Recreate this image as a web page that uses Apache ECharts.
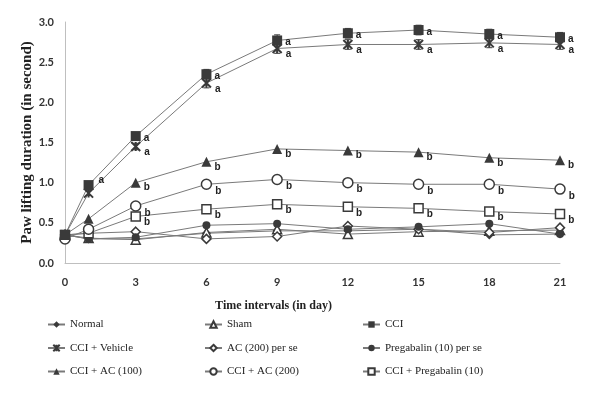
<!DOCTYPE html>
<html>
<head>
<meta charset="utf-8">
<script src="https://cdn.jsdelivr.net/npm/echarts@6/dist/echarts.min.js"></script>
<style>html,body{margin:0;padding:0;background:#fff}#c{width:600px;height:407px}</style>
</head>
<body>
<div id="c"></div>
<script>
const days = [0, 1, 3, 6, 9, 12, 15, 18, 21];
const xTicks = [0, 3, 6, 9, 12, 15, 18, 21];
const normal     = [0.35, 0.30, 0.30, 0.37, 0.40, 0.40, 0.42, 0.35, 0.36];
const sham       = [0.35, 0.31, 0.29, 0.38, 0.42, 0.36, 0.39, 0.40, 0.41];
const cci        = [0.35, 0.97, 1.58, 2.35, 2.77, 2.86, 2.90, 2.85, 2.81];
const cciVehicle = [0.35, 0.87, 1.45, 2.24, 2.67, 2.72, 2.72, 2.74, 2.72];
const acPerSe    = [0.35, 0.37, 0.39, 0.30, 0.33, 0.46, 0.42, 0.38, 0.44];
const pregPerSe  = [0.35, 0.30, 0.32, 0.47, 0.49, 0.42, 0.45, 0.49, 0.36];
const cciAc100   = [0.35, 0.55, 1.00, 1.26, 1.42, 1.40, 1.38, 1.31, 1.28];
const cciAc200   = [0.30, 0.42, 0.71, 0.98, 1.04, 1.00, 0.98, 0.98, 0.92];
const cciPreg    = [0.35, 0.37, 0.58, 0.67, 0.73, 0.70, 0.68, 0.64, 0.61];
const cciErr     = [0.02, 0.03, 0.04, 0.06, 0.07, 0.06, 0.06, 0.06, 0.06];
const vehErr     = [0.02, 0.03, 0.04, 0.06, 0.06, 0.06, 0.06, 0.06, 0.06];
const lettersCci = ['', 'a', 'a', 'a', 'a', 'a', 'a', 'a', 'a'];
const lettersVeh = ['', '', 'a', 'a', 'a', 'a', 'a', 'a', 'a'];
const lettersB   = ['', '', 'b', 'b', 'b', 'b', 'b', 'b', 'b'];
const names = ['Normal', 'Sham', 'CCI', 'CCI + Vehicle', 'AC (200) per se',
  'Pregabalin (10) per se', 'CCI + AC (100)', 'CCI + AC (200)', 'CCI + Pregabalin (10)'];

const DARK = '#3a3a3a';
const LINE = '#7a7a7a';
const starPath = 'path://M0,0 L10,10 M10,0 L0,10 M5,0 L5,10 M0,5 L0,5';

function pts(arr) { return days.map((d, i) => [d, arr[i]]); }

function lineSeries(name, arr, symbol, size, filled, letters, offY) {
  const s = {
    name: name, type: 'line', data: pts(arr),
    symbol: symbol, symbolSize: size,
    lineStyle: { color: LINE, width: 1 },
    itemStyle: { color: filled ? DARK : '#fff', borderColor: DARK, borderWidth: filled ? 0 : 1.5 },
    z: 3, animation: false
  };
  if (letters) {
    s.label = {
      show: true, position: 'right', distance: 3, offset: [0, offY],
      formatter: p => letters[p.dataIndex],
      fontFamily: 'Liberation Sans', fontWeight: 'bold', fontSize: 10, color: '#222'
    };
  }
  return s;
}

function errSeries(arr, err) {
  return {
    type: 'custom', silent: true, z: 2, animation: false,
    data: days.map((d, i) => [d, arr[i] - err[i], arr[i] + err[i]]),
    renderItem: function (params, api) {
      const lo = api.coord([api.value(0), api.value(1)]);
      const hi = api.coord([api.value(0), api.value(2)]);
      const w = 3;
      const st = { stroke: DARK, lineWidth: 1 };
      return { type: 'group', children: [
        { type: 'line', shape: { x1: lo[0], y1: lo[1], x2: hi[0], y2: hi[1] }, style: st },
        { type: 'line', shape: { x1: lo[0] - w, y1: lo[1], x2: lo[0] + w, y2: lo[1] }, style: st },
        { type: 'line', shape: { x1: hi[0] - w, y1: hi[1], x2: hi[0] + w, y2: hi[1] }, style: st }
      ]};
    }
  };
}

const vehSeries = lineSeries(names[3], cciVehicle, starPath, 9, true, lettersVeh, 6);
vehSeries.itemStyle = { color: DARK, borderColor: DARK, borderWidth: 2 };

const cciSeries = lineSeries(names[2], cci, 'rect', 10, true, lettersCci, 2);
cciSeries.data[1] = { value: cciSeries.data[1], label: { offset: [2, -5] } };

const legendText = { fontFamily: 'Liberation Serif', fontSize: 11, color: '#222' };
function legend(left, data) {
  return {
    orient: 'vertical', left: left, top: 319, padding: 0, itemGap: 12.5, itemWidth: 17, itemHeight: 8,
    data: data, textStyle: legendText, selectedMode: false
  };
}

const tickFont = { fontFamily: 'Lato', fontWeight: 'bold', fontSize: 11, color: '#333' };

const chart = echarts.init(document.getElementById('c'), null, { renderer: 'canvas' });
chart.setOption({
  backgroundColor: '#fff',
  animation: false,
  grid: { left: 65, right: 40, top: 22, bottom: 144 },
  xAxis: {
    type: 'value', min: 0, max: 21, interval: 3,
    name: 'Time intervals (in day)', nameLocation: 'middle', nameGap: 37,
    nameTextStyle: { fontFamily: 'Liberation Serif', fontWeight: 'bold', fontSize: 12, color: '#222',
      padding: [0, 78, 0, 0] },
    axisLine: { show: true, lineStyle: { color: '#bfbfbf', width: 1 } },
    axisTick: { show: false }, splitLine: { show: false },
    axisLabel: Object.assign({ margin: 14 }, tickFont)
  },
  yAxis: {
    type: 'value', min: 0, max: 3, interval: 0.5,
    name: 'Paw lifting duration (in second)', nameLocation: 'middle', nameGap: 30,
    nameMoveOverlap: false,
    nameTextStyle: { fontFamily: 'Liberation Serif', fontWeight: 'bold', fontSize: 15, color: '#222' },
    axisLine: { show: true, lineStyle: { color: '#bfbfbf', width: 1 } },
    axisTick: { show: false }, splitLine: { show: false },
    axisLabel: Object.assign({ margin: 11, formatter: v => v.toFixed(1) }, tickFont)
  },
  legend: [
    legend(47, [names[0], names[3], names[6]]),
    legend(204, [names[1], names[4], names[7]]),
    legend(362, [names[2], names[5], names[8]])
  ],
  series: [
    errSeries(cci, cciErr),
    errSeries(cciVehicle, vehErr),
    lineSeries(names[0], normal, 'diamond', 9, true, null, 0),
    lineSeries(names[1], sham, 'triangle', 9, false, null, 0),
    lineSeries(names[4], acPerSe, 'diamond', 9, false, null, 0),
    lineSeries(names[5], pregPerSe, 'circle', 8, true, null, 0),
    lineSeries(names[8], cciPreg, 'rect', 9, false, lettersB, 6),
    lineSeries(names[7], cciAc200, 'circle', 10, false, lettersB, 7),
    lineSeries(names[6], cciAc100, 'triangle', 10, true, lettersB, 5),
    vehSeries,
    cciSeries
  ]
});
</script>
</body>
</html>
